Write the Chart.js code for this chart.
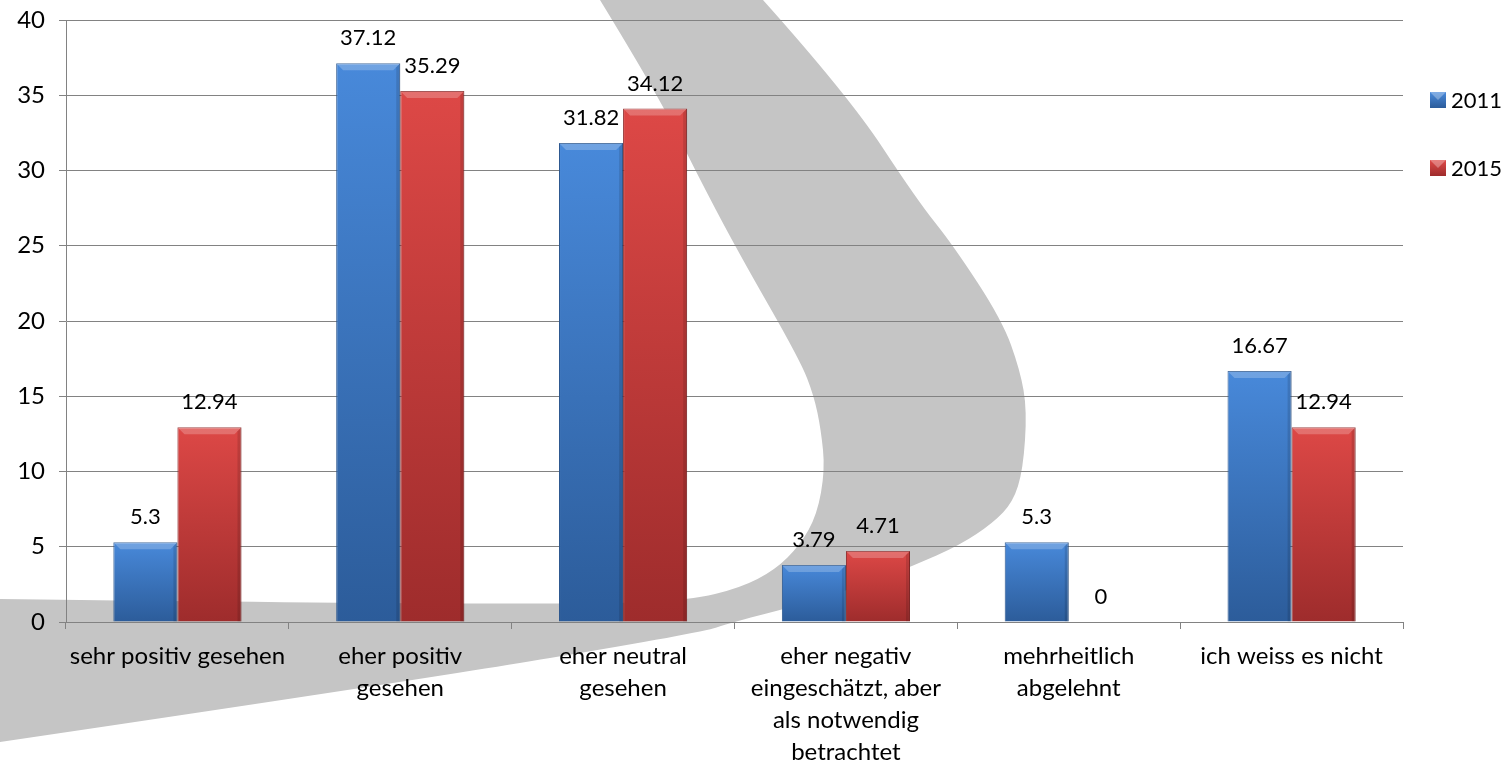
<!DOCTYPE html>
<html>
<head>
<meta charset="utf-8">
<script src="https://cdn.jsdelivr.net/npm/chart.js@4/dist/chart.umd.min.js"></script>
<style>
  html, body { margin: 0; padding: 0; background: #fff; }
  #wrap { width: 1511px; height: 765px; position: relative; }
</style>
</head>
<body>
<div id="wrap"><canvas id="myChart"></canvas></div>
<script>
// data
const categories = [
  "sehr positiv gesehen",
  ["eher positiv", "gesehen"],
  ["eher neutral", "gesehen"],
  ["eher negativ", "eingeschätzt, aber", "als notwendig", "betrachtet"],
  ["mehrheitlich", "abgelehnt"],
  "ich weiss es nicht"
];
const seriesNames = ["2011", "2015"];
const values2011 = [5.3, 37.12, 31.82, 3.79, 5.3, 16.67];
const values2015 = [12.94, 35.29, 34.12, 4.71, 0, 12.94];
const yMin = 0;
const yMax = 40;
const yStep = 5;

const fontFamily = "Lato, 'Open Sans', sans-serif";
const gridColor = "#828282";

// gray swoosh in the background (decoration only, canvas pixels)
const swoosh = [
  [600, 0], [763, 0], [848, 95], [917, 200], [953, 245], [1002, 320], [1020, 370],
  [1027, 410], [1023, 470], [1013, 502], [993, 523], [960, 545], [913, 566],
  [860, 586], [800, 605], [733, 622], [700, 633], [400, 683], [0, 742],
  [0, 599], [333, 603], [600, 604], [690, 600], [740, 588], [775, 570],
  [800, 545], [817, 515], [825, 470], [821, 430], [814, 396], [800, 360],
  [737, 250], [695, 170], [658, 95]
];
// corners that stay sharp
const swooshCorners = [0, 1, 18, 19];

function barFill(top, bottom) {
  return function (c) {
    const chart = c.chart;
    const y = chart.scales && chart.scales.y;
    if (!y || c.raw == null) return top;
    const y0 = y.getPixelForValue(0);
    const y1 = y.getPixelForValue(c.raw);
    if (!isFinite(y0) || !isFinite(y1) || y0 - y1 < 1) return top;
    const g = chart.ctx.createLinearGradient(0, y1, 0, y0);
    g.addColorStop(0, top);
    g.addColorStop(1, bottom);
    return g;
  };
}

const swooshPlugin = {
  id: "swoosh",
  beforeDraw(chart) {
    const ctx = chart.ctx;
    const n = swoosh.length;
    const mid = (a, b) => [(a[0] + b[0]) / 2, (a[1] + b[1]) / 2];
    ctx.save();
    ctx.fillStyle = "#c5c5c5";
    ctx.beginPath();
    ctx.moveTo(swoosh[0][0], swoosh[0][1]);
    for (let i = 1; i <= n; i++) {
      const p = swoosh[i % n];
      const next = swoosh[(i + 1) % n];
      if (swooshCorners.includes(i % n)) {
        ctx.lineTo(p[0], p[1]);
      } else {
        const m = swooshCorners.includes((i + 1) % n) ? next : mid(p, next);
        ctx.quadraticCurveTo(p[0], p[1], m[0], m[1]);
        if (swooshCorners.includes((i + 1) % n)) i++;
      }
    }
    ctx.closePath();
    ctx.fill();
    ctx.restore();
  }
};

// lighter bevel on top of every bar + value labels
const barDecor = {
  id: "barDecor",
  afterDatasetsDraw(chart) {
    const ctx = chart.ctx;
    ctx.save();
    chart.data.datasets.forEach((ds, i) => {
      const meta = chart.getDatasetMeta(i);
      meta.data.forEach((bar, j) => {
        const w = bar.width;
        const h = bar.base - bar.y;
        if (h > 8) {
          const l = bar.x - w / 2, r = bar.x + w / 2;
          ctx.fillStyle = "rgba(255,255,255,0.22)";
          ctx.beginPath();
          ctx.moveTo(l, bar.y);
          ctx.lineTo(r, bar.y);
          ctx.lineTo(r - 7, bar.y + 7);
          ctx.lineTo(l + 7, bar.y + 7);
          ctx.closePath();
          ctx.fill();
          ctx.fillStyle = "rgba(0,0,0,0.12)";
          ctx.beginPath();
          ctx.moveTo(r, bar.y);
          ctx.lineTo(r, bar.base);
          ctx.lineTo(r - 4, bar.base);
          ctx.lineTo(r - 4, bar.y + 4);
          ctx.closePath();
          ctx.fill();
        }
        ctx.fillStyle = "#000";
        ctx.font = "22px " + fontFamily;
        ctx.textAlign = "center";
        ctx.textBaseline = "middle";
        ctx.fillText(String(ds.data[j]), bar.x, bar.y - 25);
      });
    });
    ctx.restore();
  }
};

const legendRight = {
  id: "legendRight",
  afterDraw(chart) {
    const ctx = chart.ctx;
    const area = chart.chartArea;
    ctx.save();
    ctx.font = "22px " + fontFamily;
    ctx.textAlign = "left";
    ctx.textBaseline = "middle";
    chart.data.datasets.forEach((ds, i) => {
      const cy = area.top + 80 + i * 68;
      const bx = area.right + 27;
      const g = ctx.createLinearGradient(0, cy - 8, 0, cy + 8);
      g.addColorStop(0, ds.legendTop);
      g.addColorStop(1, ds.legendBottom);
      ctx.fillStyle = g;
      ctx.fillRect(bx, cy - 8, 16, 16);
      ctx.fillStyle = "rgba(255,255,255,0.3)";
      ctx.beginPath();
      ctx.moveTo(bx, cy - 8);
      ctx.lineTo(bx + 16, cy - 8);
      ctx.lineTo(bx + 8, cy);
      ctx.closePath();
      ctx.fill();
      ctx.fillStyle = "#000";
      ctx.fillText(ds.label, bx + 21, cy + 1);
    });
    ctx.restore();
  }
};

const ctx = document.getElementById("myChart").getContext("2d");

const myChart = new Chart(ctx, {
  type: "bar",
  data: {
    labels: categories,
    datasets: [
      {
        label: seriesNames[0],
        data: values2011,
        backgroundColor: barFill("#4889da", "#2c5c9a"),
        borderColor: "#2a568f",
        borderWidth: 1,
        legendTop: "#4a8bdc",
        legendBottom: "#2c5c9a"
      },
      {
        label: seriesNames[1],
        data: values2015,
        backgroundColor: barFill("#dd4846", "#9e2c2c"),
        borderColor: "#8e2828",
        borderWidth: 1,
        legendTop: "#e04a48",
        legendBottom: "#9e2c2c"
      }
    ]
  },
  options: {
    responsive: true,
    maintainAspectRatio: false,
    animation: false,
    layout: { padding: { top: 20, right: 108, left: 0, bottom: 0 } },
    plugins: {
      legend: { display: false },
      tooltip: { enabled: false }
    },
    datasets: {
      bar: { categoryPercentage: 0.575, barPercentage: 1 }
    },
    scales: {
      x: {
        grid: {
          drawOnChartArea: false,
          drawTicks: true,
          tickLength: 7,
          color: gridColor,
          lineWidth: 1
        },
        border: { color: gridColor, width: 1 },
        ticks: {
          color: "#000",
          maxRotation: 0,
          autoSkip: false,
          padding: 11,
          font: { family: fontFamily, size: 24, lineHeight: "32px" }
        },
        afterFit(scale) { scale.height = 143; }
      },
      y: {
        min: yMin,
        max: yMax,
        grid: {
          color: gridColor,
          lineWidth: 1,
          tickLength: 7
        },
        border: { color: gridColor, width: 1 },
        ticks: {
          stepSize: yStep,
          color: "#000",
          padding: 14,
          font: { family: fontFamily, size: 24 }
        },
        afterFit(scale) {
          scale.width = 66;
          scale.paddingTop = 0;
          scale.paddingBottom = 0;
        }
      }
    }
  },
  plugins: [swooshPlugin, barDecor, legendRight]
});
</script>
</body>
</html>
